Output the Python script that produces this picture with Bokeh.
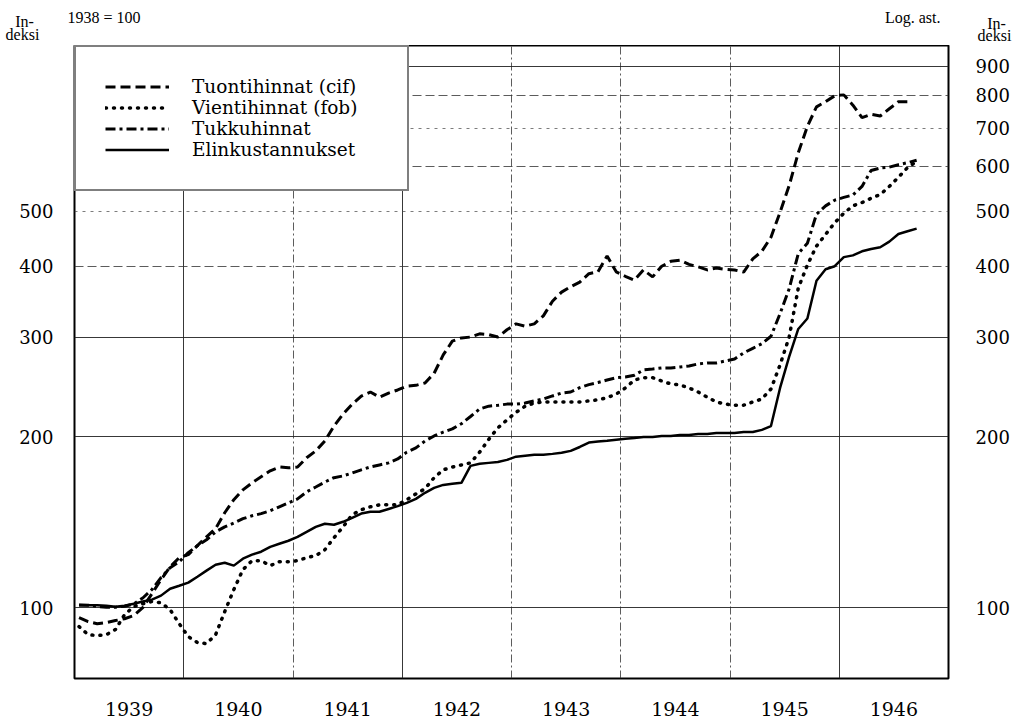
from bokeh.plotting import figure
from bokeh.models import (Range1d, FixedTicker, LogAxis, Legend, LegendItem, Label, Grid,
                          CustomJSTickFormatter, PrintfTickFormatter)
from bokeh.embed import file_html
from bokeh.resources import INLINE

nan = float("nan")

# Monthly observations, January 1939 - September 1946 (1938 = 100)
years = list(range(1939, 1947))

tuontihinnat = [
    96.0, 94.5, 93.7, 94.1, 94.9, 95.6, 96.8, 100.0, 105.8, 112.0, 118.0, 122.5,   # 1939
    124.0, 128.6, 133.3, 137.8, 147.0, 155.0, 161.3, 166.0, 170.1, 174.3, 177.0, 176.4,  # 1940
    177.0, 183.8, 189.0, 196.7, 209.0, 219.4, 228.5, 236.0, 240.0, 235.0, 239.0, 242.0,  # 1941
    245.7, 246.6, 249.0, 259.0, 279.0, 295.0, 299.0, 300.0, 304.0, 303.0, 300.0, 309.0,  # 1942
    316.5, 313.6, 316.5, 327.0, 347.0, 360.0, 368.0, 375.0, 388.0, 391.0, 417.0, 391.0,  # 1943
    384.0, 378.0, 394.0, 383.0, 400.0, 408.0, 410.0, 403.0, 399.0, 394.0, 397.0, 395.0,  # 1944
    394.0, 390.5, 412.0, 425.0, 450.0, 498.0, 555.0, 634.0, 706.0, 764.0, 780.0, 799.0,  # 1945
    802.0, 769.0, 731.0, 741.0, 736.0, 758.0, 780.0, 780.0, nan,                        # 1946
]
vientihinnat = [
    92.6, 89.6, 89.3, 89.6, 91.5, 97.2, 100.4, 101.6, 102.5, 102.0, 99.2, 93.7,
    88.9, 86.8, 86.4, 89.6, 98.4, 107.6, 116.7, 121.0, 121.0, 118.6, 120.5, 120.5,
    121.0, 122.5, 123.5, 126.5, 132.8, 138.8, 145.8, 148.8, 150.6, 151.8, 151.8, 151.8,
    155.0, 158.7, 162.0, 169.5, 175.0, 177.0, 178.5, 180.0, 188.0, 198.0, 207.5, 214.3,
    221.0, 226.6, 229.5, 230.5, 230.5, 230.5, 230.5, 230.5, 231.5, 232.5, 234.5, 238.0,
    244.0, 252.0, 254.4, 254.4, 251.0, 248.0, 247.0, 244.0, 240.0, 235.0, 230.5, 228.5,
    227.5, 227.5, 230.5, 233.3, 243.0, 268.0, 300.0, 366.0, 402.0, 434.0, 455.0, 477.0,
    496.0, 511.0, 518.0, 527.0, 535.0, 553.0, 574.0, 597.0, 612.0,
]
tukkuhinnat = [
    101.0, 101.0, 100.5, 100.2, 100.2, 100.6, 101.5, 104.0, 107.6, 113.0, 117.6, 120.5,
    125.0, 128.6, 131.7, 136.0, 138.8, 141.0, 143.5, 145.2, 146.5, 148.2, 150.6, 153.0,
    155.5, 160.0, 163.2, 166.5, 169.5, 170.7, 172.8, 175.0, 177.0, 178.5, 180.0, 182.9,
    188.0, 191.3, 196.7, 200.8, 204.0, 206.6, 211.0, 217.3, 224.0, 226.6, 227.4, 228.5,
    228.5, 229.5, 231.5, 233.3, 236.2, 239.0, 240.0, 244.3, 247.3, 249.4, 252.0, 254.4,
    255.0, 257.0, 262.5, 263.5, 264.6, 264.6, 265.7, 266.8, 269.0, 270.1, 270.1, 272.2,
    274.4, 281.3, 286.6, 292.0, 301.0, 330.0, 365.0, 421.0, 439.0, 494.0, 511.0, 523.0,
    529.0, 534.0, 553.0, 590.0, 596.0, 598.0, 604.0, 609.0, 615.0,
]
elinkustannukset = [
    101.2, 101.0, 101.0, 100.8, 100.4, 100.8, 101.6, 102.5, 103.3, 105.0, 108.0, 109.3,
    110.7, 113.4, 116.2, 119.0, 120.0, 118.6, 122.0, 124.0, 125.5, 128.0, 129.6, 131.2,
    133.3, 136.0, 138.8, 140.6, 140.0, 141.7, 144.0, 146.5, 147.6, 147.6, 149.3, 151.0,
    153.0, 155.5, 159.4, 162.6, 164.6, 165.3, 166.0, 177.8, 179.3, 180.0, 180.7, 182.2,
    184.6, 185.3, 186.0, 186.0, 186.7, 187.5, 189.0, 192.0, 195.5, 196.3, 197.0, 197.8,
    198.6, 199.2, 200.0, 200.0, 200.8, 200.8, 201.6, 201.6, 202.4, 202.4, 203.2, 203.2,
    203.2, 204.0, 204.0, 205.8, 209.0, 244.0, 277.0, 310.0, 323.5, 377.0, 395.0, 400.0,
    415.0, 418.0, 425.0, 429.0, 432.0, 442.0, 456.0, 461.0, 466.0,
]

left_ticks = [100, 200, 300, 400, 500]
right_ticks = [100, 200, 300, 400, 500, 600, 700, 800, 900]

series_labels = ["Tuontihinnat (cif)", "Vientihinnat (fob)", "Tukkuhinnat", "Elinkustannukset"]

# month positions (middle of each month) in fractional years
n = len(elinkustannukset)
x = [1939 + (i + 0.5) / 12.0 for i in range(n)]

FONT = "DejaVu Serif"
HFONT = "Liberation Serif"

# ---------------- header strip (texts above the frame) ----------------
header = figure(width=1020, height=45, x_range=Range1d(0, 1020), y_range=Range1d(45, 0),
                output_backend="svg", toolbar_location=None,
                x_axis_location=None, y_axis_location=None,
                min_border_left=0, min_border_right=0, min_border_top=0, min_border_bottom=0)
header.outline_line_color = None
header.xgrid.visible = False
header.ygrid.visible = False
header.background_fill_color = "white"
header.border_fill_color = "white"


def note(txt, px, py, align="left", size="16px"):
    header.add_layout(Label(x=px, y=py, text=txt, text_font=HFONT, text_font_size=size,
                            text_color="black", text_align=align, text_baseline="middle"))


note("1938 = 100", 67, 17)
note("Log. ast.", 940, 17, align="right")
note("In-", 24, 21, align="center")
note("deksi", 22, 34, align="center")
note("In-", 996, 23, align="center")
note("deksi", 994, 35, align="center")

# ---------------- main chart ----------------
p = figure(width=1020, height=677, y_axis_type="log",
           x_range=Range1d(1939, 1947), y_range=Range1d(75, 980),
           output_backend="svg", toolbar_location=None,
           min_border_left=74, min_border_right=72, min_border_top=0, min_border_bottom=44)
p.background_fill_color = "white"
p.border_fill_color = "white"
p.outline_line_color = "black"
p.outline_line_width = 2
p.outline_line_alpha = 1

# grids (the original mixes solid and broken rulings)
p.xgrid.visible = False
p.ygrid.visible = False
grid_specs = [
    (0, [1940, 1942, 1946], None, "#222222", 0.9),
    (0, [1941, 1943, 1944, 1945], "8 3 2 3", "#333333", 0.8),
    (1, [100, 200, 300, 900], None, "#222222", 0.9),
    (1, [400, 600, 800], "9 4", "#333333", 0.8),
    (1, [500, 700], "3 5", "#444444", 0.7),
]
for dim, ticks, dash, col, alpha in grid_specs:
    g = Grid(dimension=dim, ticker=FixedTicker(ticks=ticks), grid_line_color=col,
             grid_line_width=1, grid_line_alpha=alpha)
    if dash:
        g.grid_line_dash = dash
    p.add_layout(g)

# axes
p.xaxis.ticker = FixedTicker(ticks=[y + 0.5 for y in years])
p.xaxis.formatter = CustomJSTickFormatter(code="return String(Math.floor(tick));")
p.yaxis.ticker = FixedTicker(ticks=left_ticks)
p.yaxis.formatter = PrintfTickFormatter(format="%d")

raxis = LogAxis(ticker=FixedTicker(ticks=right_ticks), formatter=PrintfTickFormatter(format="%d"))
p.add_layout(raxis, "right")

for ax in (p.xaxis[0], p.yaxis[0], raxis):
    ax.axis_line_color = None
    ax.major_tick_line_color = None
    ax.minor_tick_line_color = None
    ax.major_tick_in = 0
    ax.major_tick_out = 0
    ax.minor_tick_in = 0
    ax.minor_tick_out = 0
    ax.major_label_text_font = FONT
    ax.major_label_text_font_size = "18px"
    ax.major_label_text_color = "black"
p.xaxis[0].major_label_text_font_size = "19px"
p.xaxis[0].major_label_standoff = 23
p.yaxis[0].major_label_standoff = 21
raxis.major_label_standoff = 27

# series
r1 = p.line(x, tuontihinnat, line_color="black", line_width=3, line_dash="10 5")
r2 = p.line(x, vientihinnat, line_color="black", line_width=3.5, line_dash="1 7", line_cap="round")
r3 = p.line(x, tukkuhinnat, line_color="black", line_width=3, line_dash="10 4 3 4")
r4 = p.line(x, elinkustannukset, line_color="black", line_width=2.5)

legend = Legend(items=[LegendItem(label=series_labels[0], renderers=[r1]),
                       LegendItem(label=series_labels[1], renderers=[r2]),
                       LegendItem(label=series_labels[2], renderers=[r3]),
                       LegendItem(label=series_labels[3], renderers=[r4])],
                location="top_left", margin=0, padding=29, spacing=0,
                glyph_width=64, glyph_height=21, label_height=21, label_width=186,
                label_standoff=23, border_line_color="black", border_line_width=2,
                background_fill_color="white", background_fill_alpha=1,
                label_text_font=FONT, label_text_font_size="18.5px", label_text_color="black")
p.add_layout(legend)

open("out.html", "w").write(file_html([header, p], INLINE))
